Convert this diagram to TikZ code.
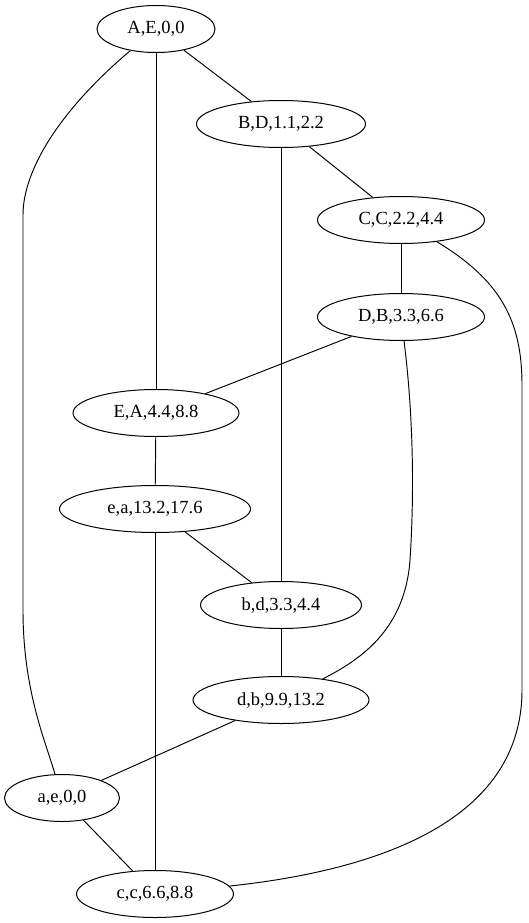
\documentclass[tikz,border=0pt]{standalone}
\usepackage{fontspec}
\setmainfont{Liberation Serif}
\usetikzlibrary{shapes.geometric}
\begin{document}
\begin{tikzpicture}[x=1pt,y=-1pt,
  nd/.style={ellipse,draw,line width=1pt,minimum height=47pt,inner sep=0pt,
    font=\fontsize{18.5}{20}\selectfont},
  edge/.style={line width=0.95pt}]
\useasboundingbox (0,0) rectangle (529,923);
\node[nd,minimum width=118pt] (A) at (156,29) {A,E,0,0};
\node[nd,minimum width=169pt] (B) at (281,124) {B,D,1.1,2.2};
\node[nd,minimum width=167pt] (C) at (401,220) {C,C,2.2,4.4};
\node[nd,minimum width=167pt] (D) at (401,317) {D,B,3.3,6.6};
\node[nd,minimum width=166pt] (E) at (156,413) {E,A,4.4,8.8};
\node[nd,minimum width=191pt] (e) at (155,509) {e,a,13.2,17.6};
\node[nd,minimum width=161pt] (b) at (281,605) {b,d,3.3,4.4};
\node[nd,minimum width=176pt] (d) at (281,700) {d,b,9.9,13.2};
\node[nd,minimum width=115pt] (a) at (62,798) {a,e,0,0};
\node[nd,minimum width=157pt] (c) at (155,894) {c,c,6.6,8.8};
\draw[edge] (A) -- (B);
\draw[edge] (A) -- (E);
\draw[edge] (A) .. controls (60,110) and (23,170) .. (23,215) -- (23,610)
  .. controls (23,690) and (45,740) .. (a);
\draw[edge] (B) -- (b);
\draw[edge] (B) -- (C);
\draw[edge] (C) -- (D);
\draw[edge] (C) .. controls (500,280) and (522,320) .. (522,385) -- (522,690)
  .. controls (522,820) and (380,870) .. (c);
\draw[edge] (D) -- (E);
\draw[edge] (D) .. controls (414,420) and (414,500) .. (410,560)
  .. controls (405,630) and (360,660) .. (d);
\draw[edge] (E) -- (e);
\draw[edge] (e) -- (b);
\draw[edge] (e) -- (c);
\draw[edge] (b) -- (d);
\draw[edge] (d) -- (a);
\draw[edge] (a) -- (c);
\end{tikzpicture}
\end{document}
